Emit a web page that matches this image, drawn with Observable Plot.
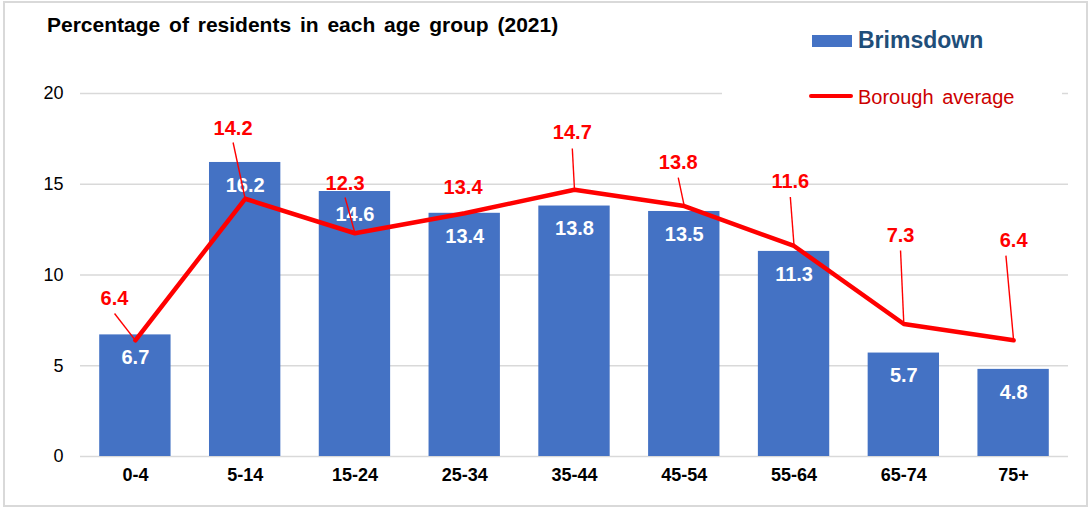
<!DOCTYPE html>
<html>
<head>
<meta charset="utf-8">
<script src="https://cdn.jsdelivr.net/npm/d3@7"></script>
<script src="https://cdn.jsdelivr.net/npm/@observablehq/plot@0.6"></script>
<style>
  html, body { margin: 0; padding: 0; background: #fff; }
  #wrap { position: relative; width: 1089px; height: 508px; font-family: "Liberation Sans", Arial, sans-serif; overflow: hidden; }
  #frame { position: absolute; left: 3px; top: 1px; width: 1081px; height: 502px; border: 2px solid #d9d9d9; pointer-events: none; }
  #title { position: absolute; left: 47px; top: 13px; font-size: 21px; line-height: 24px; font-weight: bold; color: #000; word-spacing: 3px; white-space: nowrap; }
  #legend { position: absolute; left: 722px; top: 20px; width: 340px; height: 100px; background: #fff; }
  .lg { position: absolute; white-space: nowrap; }
  #sw1 { position: absolute; left: 90px; top: 15px; width: 40px; height: 12px; background: #4472C4; }
  #lt1 { left: 136px; top: 7px; font-size: 23px; line-height: 26px; font-weight: bold; color: #1F4E79; }
  #sw2 { position: absolute; left: 87px; top: 74px; width: 44px; height: 4px; background: #FF0000; border-radius: 2px; }
  #lt2 { left: 136px; top: 66px; font-size: 20px; line-height: 22px; color: #CC0000; word-spacing: 3px; }
  svg { position: absolute; left: 0; top: 0; }
</style>
</head>
<body>
<div id="wrap">
  <div id="chart"></div>
  <div id="legend">
    <div id="sw1"></div><div class="lg" id="lt1">Brimsdown</div>
    <div id="sw2"></div><div class="lg" id="lt2">Borough average</div>
  </div>
  <div id="title">Percentage of residents in each age group (2021)</div>
  <div id="frame"></div>
</div>
<script>
const ageGroups = ["0-4", "5-14", "15-24", "25-34", "35-44", "45-54", "55-64", "65-74", "75+"];
const brimsdown = [6.7, 16.2, 14.6, 13.4, 13.8, 13.5, 11.3, 5.7, 4.8];
const boroughAverage = [6.4, 14.2, 12.3, 13.4, 14.7, 13.8, 11.6, 7.3, 6.4];
const yTicks = [0, 5, 10, 15, 20];

// annotation placement for the borough-average labels (label shift in bands, lift in % points)
const labelShift = [-0.19, -0.11, -0.09, -0.015, -0.02, -0.055, -0.034, -0.03, 0];
const labelLift = [2.3, 3.87, 2.74, 1.42, 3.15, 2.4, 3.55, 4.88, 5.5];
const leaderShift = [-0.19, -0.11, -0.09, null, -0.02, -0.055, -0.034, -0.03, -0.07];
const leaderLift = [1.48, 3.1, 1.97, null, 2.27, 1.57, 2.7, 4.05, 4.67];

const bars = ageGroups.map((g, i) => ({i, g, v: brimsdown[i]}));
const line = ageGroups.map((g, i) => ({i, g, v: boroughAverage[i]}));
const labels = line.map((d, i) => ({x: d.i + labelShift[i], y: d.v + labelLift[i], t: d.v.toFixed(1)}));
const leaders = line.filter((d, i) => leaderLift[i] != null).map(d => ({
  x1: d.i + leaderShift[d.i], y1: d.v + leaderLift[d.i], x2: d.i, y2: d.v
}));

const half = 0.325;
const plot = Plot.plot({
  width: 1089,
  height: 508,
  marginLeft: 80,
  marginRight: 21,
  marginTop: 93,
  marginBottom: 52,
  style: {fontFamily: "'Liberation Sans', Arial, sans-serif", background: "transparent", overflow: "visible"},
  x: {domain: [-0.5, ageGroups.length - 0.5]},
  y: {domain: [0, 20]},
  marks: [
    Plot.ruleY(yTicks, {stroke: "#d9d9d9", strokeWidth: 1.3}),
    Plot.rectY(bars, {x1: d => d.i - half, x2: d => d.i + half, y: "v", fill: "#4472C4"}),
    Plot.text(bars, {x: "i", y: "v", text: d => d.v.toFixed(1), dy: 23, fill: "white", fontSize: 20, fontWeight: "bold"}),
    Plot.link(leaders, {x1: "x1", y1: "y1", x2: "x2", y2: "y2", stroke: "#FF0000", strokeWidth: 1.4}),
    Plot.line(line, {x: "i", y: "v", stroke: "#FF0000", strokeWidth: 4.5, strokeLinejoin: "round"}),
    Plot.text(labels, {x: "x", y: "y", text: "t", fill: "#FF0000", fontSize: 20, fontWeight: "bold"}),
    Plot.axisY(yTicks, {tickSize: 0, tickPadding: 17, fontSize: 18, fill: "#000", label: null}),
    Plot.axisX(d3.range(ageGroups.length), {tickSize: 0, tickPadding: 12, fontSize: 18, fontWeight: "bold", fill: "#000", tickFormat: i => ageGroups[i], label: null})
  ]
});
document.getElementById("chart").appendChild(plot);
</script>
</body>
</html>
